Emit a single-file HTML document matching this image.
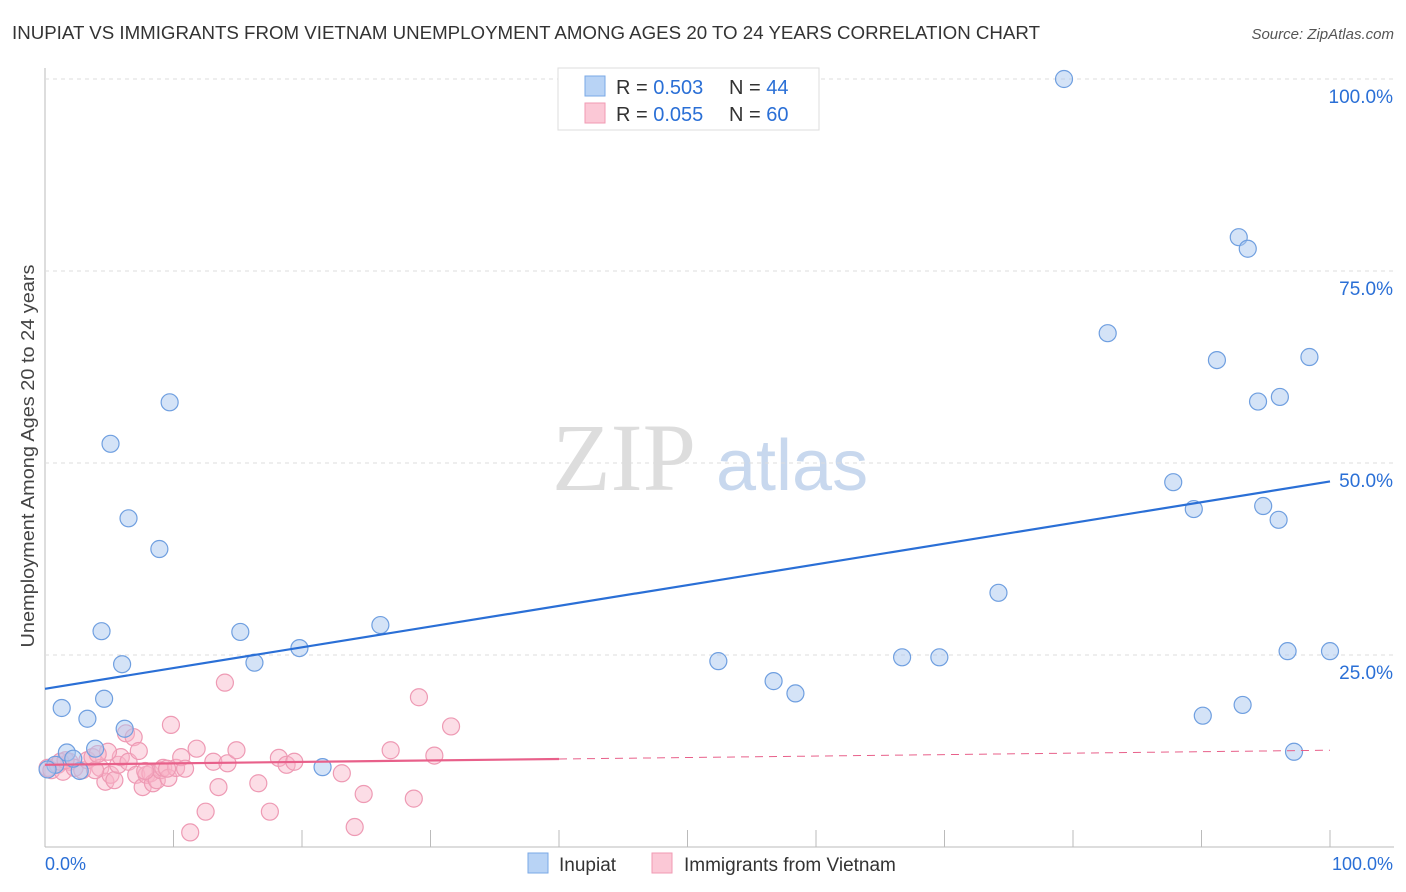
<!DOCTYPE html>
<html><head><meta charset="utf-8"><style>
body{margin:0;background:#fff;font-family:"Liberation Sans",sans-serif;}
svg{display:block}
</style></head><body>
<svg id="chart" width="1406" height="892">
<text x="12" y="39" font-size="18" fill="#333" textLength="1028" lengthAdjust="spacingAndGlyphs">INUPIAT VS IMMIGRANTS FROM VIETNAM UNEMPLOYMENT AMONG AGES 20 TO 24 YEARS CORRELATION CHART</text>
<text x="1394" y="39" font-size="15" fill="#555" font-style="italic" text-anchor="end">Source: ZipAtlas.com</text>
<text x="34" y="456" font-size="18" fill="#444" text-anchor="middle" transform="rotate(-90 34 456)" textLength="383" lengthAdjust="spacingAndGlyphs">Unemployment Among Ages 20 to 24 years</text>
<text x="552" y="490" font-size="96" fill="#ddd" font-family="Liberation Serif,serif">ZIP</text>
<text x="716" y="490" font-size="72" fill="#c8d8ee">atlas</text>
<g id="grid"></g><g id="pts"></g><g id="lines"></g>
<g>
<rect x="558" y="68" width="261" height="62" fill="#fff" stroke="#ddd"/>
<rect x="585" y="76" width="20" height="20" fill="#b8d3f5" stroke="#7aa8e6"/>
<text x="616" y="94" font-size="20" fill="#333">R = <tspan fill="#2a6fd6">0.503</tspan></text>
<text x="729" y="94" font-size="20" fill="#333">N = <tspan fill="#2a6fd6">44</tspan></text>
<rect x="585" y="103" width="20" height="20" fill="#fbc8d6" stroke="#f09ab3"/>
<text x="616" y="121" font-size="20" fill="#333">R = <tspan fill="#2a6fd6">0.055</tspan></text>
<text x="729" y="121" font-size="20" fill="#333">N = <tspan fill="#2a6fd6">60</tspan></text>
</g>
<g>
<rect x="528" y="853" width="20" height="20" fill="#b8d3f5" stroke="#7aa8e6"/>
<text x="559" y="871" font-size="19" fill="#333">Inupiat</text>
<rect x="652" y="853" width="20" height="20" fill="#fbc8d6" stroke="#f09ab3"/>
<text x="684" y="871" font-size="19" fill="#333">Immigrants from Vietnam</text>
</g>
<text x="45" y="870" font-size="18" fill="#2a6fd6">0.0%</text>
<text x="1393" y="870" font-size="18" fill="#2a6fd6" text-anchor="end">100.0%</text>
</svg>
<script>
const yTicks=[25,50,75,100];
const yTickLabels=["25.0%","50.0%","75.0%","100.0%"];
const blueX=[79.3,92.9,93.6,82.7,91.2,98.4,94.4,96.1,9.7,5.1,87.8,89.4,94.8,96,6.5,8.9,74.2,26.1,4.4,15.2,19.8,6,16.3,52.4,66.7,69.6,96.7,100,56.7,58.4,4.6,1.3,90.1,93.2,3.3,6.2,3.9,1.7,97.2,21.6,2.7,0.8,0.2,2.2];
const blueY=[100,79.4,77.9,66.9,63.4,63.8,58,58.6,57.9,52.5,47.5,44,44.4,42.6,42.8,38.8,33.1,28.9,28.1,28,25.9,23.8,24,24.2,24.7,24.7,25.5,25.5,21.6,20,19.3,18.1,17.1,18.5,16.7,15.4,12.8,12.3,12.4,10.4,9.9,10.7,10.1,11.5];
const pinkX=[0.2,0.5,1,1.4,1.9,2.3,2.9,3.3,3.7,4.3,4.7,5.1,5.4,5.7,5.9,6.3,6.5,6.9,7.1,7.3,7.6,7.9,8.2,8.4,8.7,9,9.2,9.6,9.8,10.2,10.6,10.9,11.3,11.8,12.5,13.1,13.5,14,14.2,14.9,16.6,17.5,18.2,18.8,19.4,23.1,24.1,24.8,26.9,28.7,29.1,30.3,31.6,1.2,1.6,3.9,4.9,7.8,9.5,4.1];
const pinkY=[10.3,10.0,10.7,9.8,11.1,10.3,10.0,11.3,11.7,10.3,8.5,9.4,8.7,10.7,11.7,14.8,11.1,14.3,9.4,12.5,7.8,9.4,9.6,8.3,8.7,10,10.3,9,15.9,10.3,11.7,10.2,1.9,12.8,4.6,11.1,7.8,21.4,10.9,12.6,8.3,4.6,11.6,10.7,11.1,9.6,2.6,6.9,12.6,6.3,19.5,11.9,15.7,11.1,11.3,10,12.4,9.9,10.2,12.1];
const blueFit=[20.6,47.6];
const pinkFit=[10.7,12.6];
const X=v=>45+v*12.85, Y=v=>847-v*7.68;
const ns="http://www.w3.org/2000/svg";
function mk(t,a,p){const e=document.createElementNS(ns,t);for(const k in a)e.setAttribute(k,a[k]);p.appendChild(e);return e;}
const g=document.getElementById('grid');
mk('line',{x1:45,y1:68,x2:45,y2:847,stroke:'#bbb'},g);
mk('line',{x1:45,y1:847,x2:1394,y2:847,stroke:'#bbb'},g);
for(let i=1;i<=10;i++){const l=mk('line',{x1:45+i*128.5,y1:830,x2:45+i*128.5,y2:847,stroke:'#bbb'},g);

}
yTicks.forEach((t,i)=>{const l=mk('line',{x1:45,y1:Y(t),x2:1394,y2:Y(t),stroke:'#ddd','stroke-dasharray':'4,4'},g);


const tx=mk('text',{x:1393,y:Y(t)+24,'font-size':19,fill:'#2a6fd6','text-anchor':'end'},g);tx.textContent=yTickLabels[i];

});
const p=document.getElementById('pts');
pinkX.forEach((x,i)=>{const c=mk('circle',{cx:X(x),cy:Y(pinkY[i]),r:8.5,fill:'rgba(248,180,200,0.45)',stroke:'#ee9ab4','stroke-width':1.2},p);

});
blueX.forEach((x,i)=>{const c=mk('circle',{cx:X(x),cy:Y(blueY[i]),r:8.5,fill:'rgba(170,200,240,0.5)',stroke:'#6f9fe0','stroke-width':1.2},p);

});
const L=document.getElementById('lines');
const b=mk('line',{x1:X(0),y1:Y(blueFit[0]),x2:X(100),y2:Y(blueFit[1]),stroke:'#2a6fd6','stroke-width':2.2},L);


const py=x=>pinkFit[0]+(pinkFit[1]-pinkFit[0])*x/100;
const a=mk('line',{x1:X(0),y1:Y(py(0)),x2:X(40),y2:Y(py(40)),stroke:'#e8608a','stroke-width':2.2},L);


const d=mk('line',{x1:X(40),y1:Y(py(40)),x2:X(100),y2:Y(py(100)),stroke:'#e8608a','stroke-width':1,'stroke-dasharray':'8,6'},L);


</script>
</body></html>
